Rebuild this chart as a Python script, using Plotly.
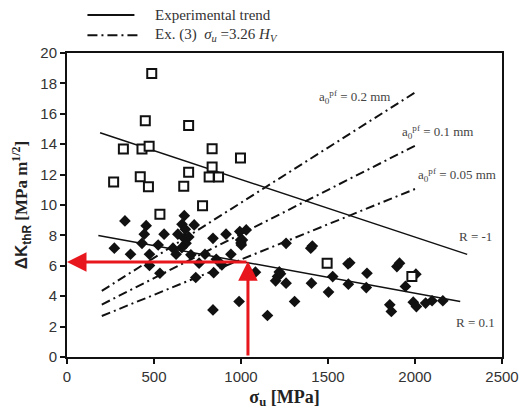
import plotly.graph_objects as go

# ---- data ----
sq_x = [487, 450, 699, 324, 431, 472, 834, 997, 834, 699, 268, 421, 468, 671, 817, 871, 534, 779, 1495, 1982]
sq_y = [18.65, 15.54, 15.23, 13.68, 13.68, 13.87, 13.7, 13.09, 12.5, 12.15, 11.51, 11.86, 11.2, 11.23, 11.84, 11.84, 9.39, 9.95, 6.17, 5.29]

dm_x = [333, 455, 444, 558, 674, 661, 731, 637, 674, 684, 839, 914, 998, 993, 431, 524, 272, 365, 474, 609,
        627, 712, 793, 858, 942, 474, 534, 759, 843, 740, 890, 839, 989, 680, 700, 660, 1000,
        1030, 1008, 1002, 1259, 1401, 1615, 1083, 1227, 1199, 1259, 1405, 1527, 1724, 1617, 1720, 1503,
        1308, 1152, 1210, 1220, 1410, 1625,
        1896, 1911, 2005, 1945, 1855, 1864, 1990, 2008, 2061, 2098, 2160]
dm_y = [8.95, 8.64, 8.08, 8.08, 9.3, 8.73, 8.69, 8.08, 7.81, 7.48, 7.81, 8.08, 7.7, 8.25, 7.48, 7.37, 7.16, 6.76, 6.76, 7.16,
        6.76, 6.72, 6.76, 6.43, 6.76, 6.02, 5.51, 6.17, 5.55, 5.23, 6.06, 3.1, 3.65, 8.4, 7.9, 7.2, 7.5,
        8.36, 7.7, 7.37, 7.48, 7.16, 6.13, 5.58, 5.47, 5.01, 4.86, 4.86, 5.29, 5.51, 4.79, 4.57, 4.27,
        3.65, 2.73, 5.3, 5.6, 7.3, 6.2,
        5.95, 6.17, 5.45, 4.64, 3.43, 3.0, 3.61, 3.32, 3.55, 3.7, 3.7]

trend_m1_x = [190, 2300]
trend_m1_y = [14.75, 6.75]
trend_01_x = [180, 2260]
trend_01_y = [8.0, 3.65]

ex_x = [200, 2000]
ex_02_y = [4.35, 17.4]
ex_01_y = [3.45, 13.9]
ex_005_y = [2.7, 11.05]

red_x = 1040
red_y = 6.25

x_ticks = [0, 500, 1000, 1500, 2000, 2500]
y_ticks = [0, 2, 4, 6, 8, 10, 12, 14, 16, 18, 20]

BLACK = "#111111"
RED = "#e8161d"
SERIF = "Liberation Serif, Times New Roman, serif"
SANS = "Liberation Sans, Arial, sans-serif"
DASHDOT = "9px,4px,2px,4px"

fig = go.Figure()

for yy in (ex_02_y, ex_01_y, ex_005_y):
    fig.add_trace(go.Scatter(x=ex_x, y=yy, mode="lines",
                             line=dict(color=BLACK, width=2, dash=DASHDOT), showlegend=False))
fig.add_trace(go.Scatter(x=trend_m1_x, y=trend_m1_y, mode="lines",
                         line=dict(color=BLACK, width=1.5), showlegend=False))
fig.add_trace(go.Scatter(x=trend_01_x, y=trend_01_y, mode="lines",
                         line=dict(color=BLACK, width=1.5), showlegend=False))

fig.add_trace(go.Scatter(x=dm_x, y=dm_y, mode="markers",
                         marker=dict(symbol="diamond", size=9, color=BLACK), showlegend=False))
fig.add_trace(go.Scatter(x=sq_x, y=sq_y, mode="markers",
                         marker=dict(symbol="square", size=9, color="white",
                                     line=dict(color=BLACK, width=2)), showlegend=False))

# red arrows
fig.add_annotation(x=0, y=red_y, ax=red_x, ay=red_y, xref="x", yref="y", axref="x", ayref="y",
                   showarrow=True, arrowhead=2, arrowsize=1.3, arrowwidth=3, arrowcolor=RED, text="")
fig.add_annotation(x=red_x, y=red_y + 0.05, ax=red_x, ay=0, xref="x", yref="y", axref="x", ayref="y",
                   showarrow=True, arrowhead=2, arrowsize=1.3, arrowwidth=3, arrowcolor=RED, text="")

# line labels
lab_font = dict(family=SERIF, size=13, color="#444444")
labels = [
    (1655, 17.1, "a<sub>0</sub><sup>pf</sup> = 0.2 mm"),
    (2130, 14.8, "a<sub>0</sub><sup>pf</sup> = 0.1 mm"),
    (2240, 11.95, "a<sub>0</sub><sup>pf</sup> = 0.05 mm"),
    (2345, 7.9, "R = -1"),
    (2350, 2.3, "R = 0.1"),
]
for lx, ly, lt in labels:
    fig.add_annotation(x=lx, y=ly, text=lt, showarrow=False, font=lab_font, xref="x", yref="y")

# legend (manual)
fig.add_shape(type="line", xref="paper", yref="paper", x0=0.047, x1=0.155, y0=1.125, y1=1.125,
              line=dict(color=BLACK, width=2))
fig.add_shape(type="line", xref="paper", yref="paper", x0=0.047, x1=0.164, y0=1.058, y1=1.058,
              line=dict(color=BLACK, width=2, dash="10px,4px,2px,4px"))
leg_font = dict(family=SERIF, size=15, color="#333333")
fig.add_annotation(x=0.198, y=1.125, xref="paper", yref="paper", xanchor="left", yanchor="middle",
                   text="Experimental trend", showarrow=False, font=leg_font)
fig.add_annotation(x=0.198, y=1.058, xref="paper", yref="paper", xanchor="left", yanchor="middle",
                   text="Ex. (3)  <i>σ<sub>u</sub></i> =3.26 <i>H<sub>V</sub></i>", showarrow=False, font=leg_font)

fig.update_layout(
    width=531, height=416,
    margin=dict(l=67, r=20, t=53, b=59),
    paper_bgcolor="white", plot_bgcolor="white",
    showlegend=False,
    xaxis=dict(range=[0, 2500], tickvals=x_ticks, ticks="outside", ticklen=5, tickwidth=1.5,
               tickcolor=BLACK, showline=True, linecolor=BLACK, linewidth=2, mirror=True,
               showgrid=False, zeroline=False,
               tickfont=dict(family=SANS, size=15, color="#333333"),
               title=dict(text="<b>σ<sub>u</sub> [MPa]</b>", font=dict(family=SERIF, size=18, color="#222222"),
                          standoff=6)),
    yaxis=dict(range=[0, 20], tickvals=y_ticks, ticks="outside", ticklen=5, tickwidth=1.5,
               tickcolor=BLACK, showline=True, linecolor=BLACK, linewidth=2, mirror=True,
               showgrid=False, zeroline=False,
               tickfont=dict(family=SANS, size=15, color="#333333"),
               title=dict(text="<b><span style='font-family:Liberation Sans'>ΔK<sub>thR</sub></span> [MPa m<sup>1/2</sup>]</b>",
                          font=dict(family=SERIF, size=17, color="#222222"), standoff=8)),
)

fig.write_html("out.html")
